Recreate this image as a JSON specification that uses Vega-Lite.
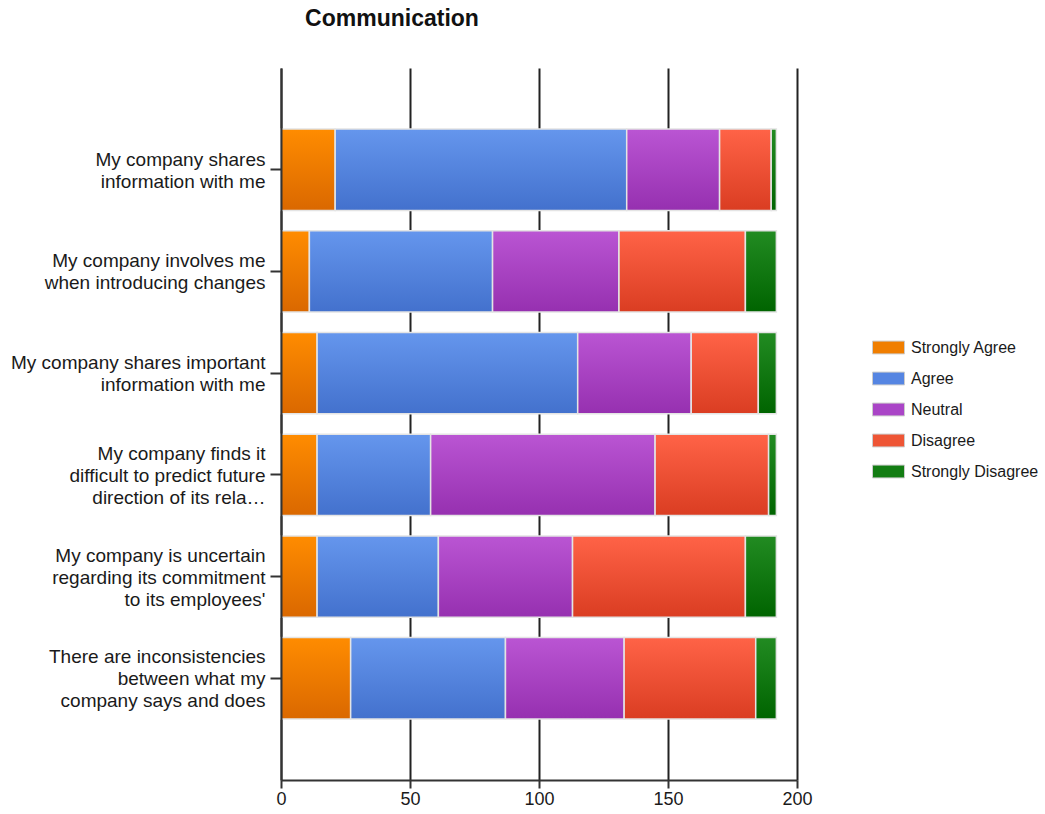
{
  "$schema": "https://vega.github.io/schema/vega-lite/v6.json",
  "width": 516,
  "height": 712,
  "autosize": {"type": "none"},
  "padding": {"left": 281, "top": 68, "right": 248, "bottom": 34},
  "background": "white",
  "title": {"text": "Communication", "anchor": "middle", "frame": "group", "dx": -147, "offset": 37, "fontSize": 23, "font": "Liberation Sans", "fontWeight": "bold", "color": "#111111"},
  "data": {"values": [
    {"q": "My company shares|information with me", "r": "Strongly Agree", "o": 1, "v": 21},
    {"q": "My company shares|information with me", "r": "Agree", "o": 2, "v": 113},
    {"q": "My company shares|information with me", "r": "Neutral", "o": 3, "v": 36},
    {"q": "My company shares|information with me", "r": "Disagree", "o": 4, "v": 20},
    {"q": "My company shares|information with me", "r": "Strongly Disagree", "o": 5, "v": 2},
    {"q": "My company involves me|when introducing changes", "r": "Strongly Agree", "o": 1, "v": 11},
    {"q": "My company involves me|when introducing changes", "r": "Agree", "o": 2, "v": 71},
    {"q": "My company involves me|when introducing changes", "r": "Neutral", "o": 3, "v": 49},
    {"q": "My company involves me|when introducing changes", "r": "Disagree", "o": 4, "v": 49},
    {"q": "My company involves me|when introducing changes", "r": "Strongly Disagree", "o": 5, "v": 12},
    {"q": "My company shares important|information with me", "r": "Strongly Agree", "o": 1, "v": 14},
    {"q": "My company shares important|information with me", "r": "Agree", "o": 2, "v": 101},
    {"q": "My company shares important|information with me", "r": "Neutral", "o": 3, "v": 44},
    {"q": "My company shares important|information with me", "r": "Disagree", "o": 4, "v": 26},
    {"q": "My company shares important|information with me", "r": "Strongly Disagree", "o": 5, "v": 7},
    {"q": "My company finds it|difficult to predict future|direction of its rela…", "r": "Strongly Agree", "o": 1, "v": 14},
    {"q": "My company finds it|difficult to predict future|direction of its rela…", "r": "Agree", "o": 2, "v": 44},
    {"q": "My company finds it|difficult to predict future|direction of its rela…", "r": "Neutral", "o": 3, "v": 87},
    {"q": "My company finds it|difficult to predict future|direction of its rela…", "r": "Disagree", "o": 4, "v": 44},
    {"q": "My company finds it|difficult to predict future|direction of its rela…", "r": "Strongly Disagree", "o": 5, "v": 3},
    {"q": "My company is uncertain|regarding its commitment|to its employees'", "r": "Strongly Agree", "o": 1, "v": 14},
    {"q": "My company is uncertain|regarding its commitment|to its employees'", "r": "Agree", "o": 2, "v": 47},
    {"q": "My company is uncertain|regarding its commitment|to its employees'", "r": "Neutral", "o": 3, "v": 52},
    {"q": "My company is uncertain|regarding its commitment|to its employees'", "r": "Disagree", "o": 4, "v": 67},
    {"q": "My company is uncertain|regarding its commitment|to its employees'", "r": "Strongly Disagree", "o": 5, "v": 12},
    {"q": "There are inconsistencies|between what my|company says and does", "r": "Strongly Agree", "o": 1, "v": 27},
    {"q": "There are inconsistencies|between what my|company says and does", "r": "Agree", "o": 2, "v": 60},
    {"q": "There are inconsistencies|between what my|company says and does", "r": "Neutral", "o": 3, "v": 46},
    {"q": "There are inconsistencies|between what my|company says and does", "r": "Disagree", "o": 4, "v": 51},
    {"q": "There are inconsistencies|between what my|company says and does", "r": "Strongly Disagree", "o": 5, "v": 8}
  ]},
  "encoding": {
    "y": {
      "field": "q", "type": "nominal", "sort": null,
      "scale": {"paddingInner": 0.2, "paddingOuter": 0.6},
      "axis": {"title": null,
        "labelExpr": "split(datum.label, '|')",
        "labelFontSize": 19, "labelLineHeight": 22,
        "labelOffset": {"condition": {"test": "length(split(datum.label, '|')) >= 3", "value": -21}, "value": -10},
        "labelLimit": 0, "labelPadding": 5, "tickSize": 11, "tickWidth": 2, "tickColor": "#333333", "domainColor": "#333333", "domainWidth": 2, "grid": false, "zindex": 1}
    },
    "x": {
      "field": "v", "type": "quantitative", "stack": "zero",
      "scale": {"domain": [0, 200], "nice": false},
      "axis": {"title": null, "values": [0, 50, 100, 150, 200], "grid": true, "gridColor": "#222222", "gridWidth": 2, "gridOpacity": 1, "tickSize": 8, "tickWidth": 2, "tickColor": "#333333", "domainColor": "#333333", "domainWidth": 2, "labelFontSize": 18, "labelPadding": 2, "labelFlush": false}
    },
    "order": {"field": "o", "type": "quantitative"}
  },
  "layer": [
    {
      "mark": {"type": "bar"},
      "encoding": {
        "color": {
          "field": "r", "type": "nominal",
          "scale": {"domain": ["Strongly Agree", "Agree", "Neutral", "Disagree", "Strongly Disagree"], "range": ["#F07E00", "#5585E2", "#AA45C7", "#EE5535", "#137D13"]},
          "legend": {"title": null, "orient": "none", "legendX": 591, "legendY": 263, "padding": 0, "symbolType": "M-1,-0.4H1V0.4H-1Z", "symbolSize": 1024, "symbolStrokeColor": "#cccccc", "symbolStrokeWidth": 1, "symbolOpacity": 1, "labelFontSize": 16, "labelFont": "Liberation Sans", "labelColor": "#1a1a1a", "labelOffset": 6, "rowPadding": 6, "labelLimit": 0}
        }
      }
    },
    {
      "mark": {"type": "bar", "stroke": "#e4e4e4", "strokeWidth": 1.5},
      "encoding": {
        "fill": {
          "condition": [
            {"test": "datum.r === 'Strongly Agree'", "value": {"gradient": "linear", "x1": 0, "y1": 0, "x2": 0, "y2": 1, "stops": [{"offset": 0, "color": "#FF8C00"}, {"offset": 1, "color": "#DA6800"}]}},
            {"test": "datum.r === 'Agree'", "value": {"gradient": "linear", "x1": 0, "y1": 0, "x2": 0, "y2": 1, "stops": [{"offset": 0, "color": "#6596ED"}, {"offset": 1, "color": "#4371CD"}]}},
            {"test": "datum.r === 'Neutral'", "value": {"gradient": "linear", "x1": 0, "y1": 0, "x2": 0, "y2": 1, "stops": [{"offset": 0, "color": "#BA55D3"}, {"offset": 1, "color": "#9630B0"}]}},
            {"test": "datum.r === 'Disagree'", "value": {"gradient": "linear", "x1": 0, "y1": 0, "x2": 0, "y2": 1, "stops": [{"offset": 0, "color": "#FF6347"}, {"offset": 1, "color": "#DA3D22"}]}}
          ],
          "value": {"gradient": "linear", "x1": 0, "y1": 0, "x2": 0, "y2": 1, "stops": [{"offset": 0, "color": "#228B22"}, {"offset": 1, "color": "#006400"}]}
        }
      }
    }
  ],
  "config": {
    "view": {"stroke": null},
    "axis": {"labelFont": "Liberation Sans", "labelColor": "#1a1a1a"}
  }
}
